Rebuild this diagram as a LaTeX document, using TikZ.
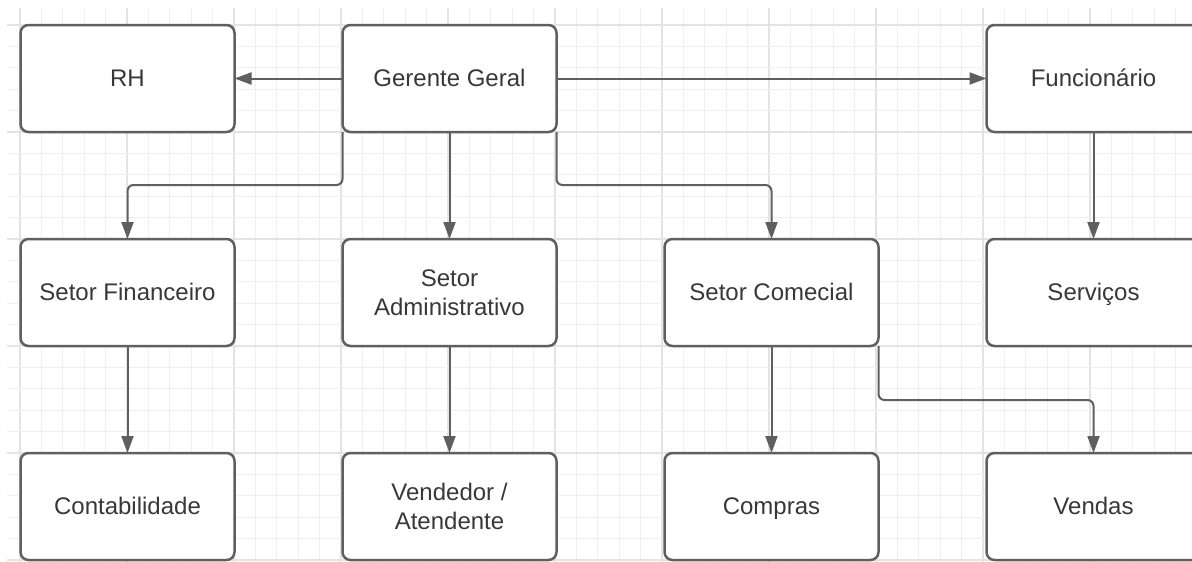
\documentclass[tikz,border=0pt]{standalone}
\usepackage{fontspec}
\setmainfont{Liberation Sans}
\usetikzlibrary{positioning,arrows.meta}
\definecolor{linha}{HTML}{5F5F5F}
\definecolor{texto}{HTML}{383838}
\definecolor{grademenor}{HTML}{EFEFEF}
\definecolor{grademaior}{HTML}{E3E3E3}

\begin{document}
\begin{tikzpicture}[
      x=1pt, y=-1pt, >={Triangle[length=17pt,width=12pt]},
      node distance=107pt and 108pt,
      setor/.style={draw=linha, line width=2.5pt, rounded corners=8pt, fill=white,
        minimum width=214pt, minimum height=107pt, inner sep=0pt, outer sep=0pt,
        align=center, text=texto, font=\fontsize{24}{29}\selectfont},
      uma/.style={setor, text height=18pt, text depth=2pt},
      seta/.style={->, draw=linha, line width=2pt, rounded corners=6pt},
      fina/.style={draw=grademenor, line width=1pt},
      grossa/.style={draw=grademaior, line width=1.2pt},
    ]
    \useasboundingbox (0,0) rectangle (1192,562);
    \clip (0,0) rectangle (1192,562);
    % grade de fundo
    \foreach \i in {0,...,55} {
      \pgfmathtruncatemacro{\r}{mod(\i,5)}
      \ifnum\r=0 \draw[grossa] ({20+21.4*\i},8) -- ++(0,560);
      \else \draw[fina] ({20+21.4*\i},8) -- ++(0,560); \fi
    }
    \foreach \j in {0,...,25} {
      \pgfmathtruncatemacro{\r}{mod(\j,5)}
      \ifnum\r=0 \draw[grossa] (7,{25+21.4*\j}) -- ++(1190,0);
      \else \draw[fina] (7,{25+21.4*\j}) -- ++(1190,0); \fi
    }
    % caixas
    \node[uma] (rh) at (127.5,78.5) {RH};
    \node[uma, right=of rh] (gerente) {Gerente Geral};
    \node[uma, below=of rh] (fin) {Setor Financeiro};
    \node[setor, below=of gerente] (adm) {Setor\\Administrativo};
    \node[uma, right=of adm] (com) {Setor Comecial};
    \node[uma, right=of com] (serv) {Serviços};
    \node[uma, above=of serv] (func) {Funcionário};
    \node[uma, below=of fin] (cont) {Contabilidade};
    \node[setor, below=of adm] (vend) {Vendedor /\\Atendente};
    \node[uma, below=of com] (compras) {Compras};
    \node[uma, below=of serv] (vendas) {Vendas};
    % ligações
    \draw[seta] (gerente) -- (rh);
    \draw[seta] (gerente) -- (func);
    \draw[seta] (gerente.south west) -- ++(0,53) -| (fin.north);
    \draw[seta] (gerente) -- (adm);
    \draw[seta] (gerente.south east) -- ++(0,53) -| (com.north);
    \draw[seta] (func) -- (serv);
    \draw[seta] (fin) -- (cont);
    \draw[seta] (adm) -- (vend);
    \draw[seta] (com) -- (compras);
    \draw[seta] (com.south east) -- ++(0,54) -| (vendas.north);
  \end{tikzpicture}
\end{document}
